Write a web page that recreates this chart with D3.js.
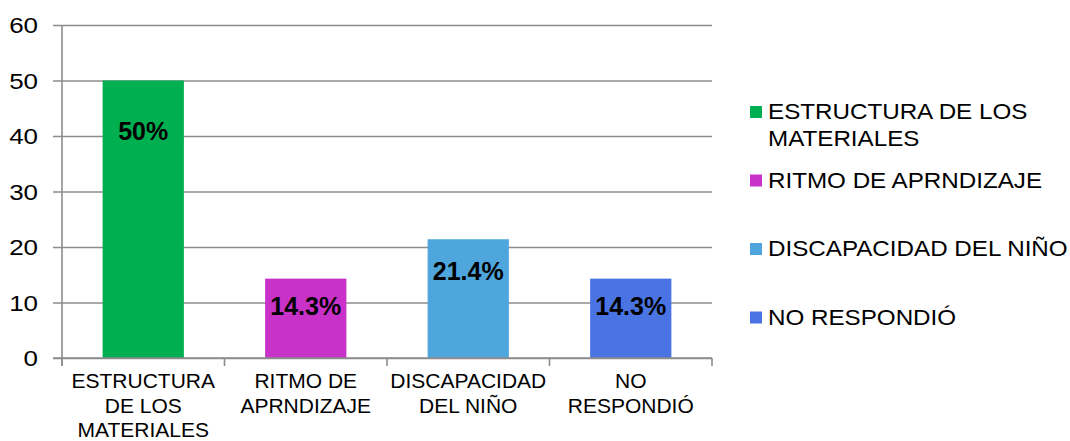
<!DOCTYPE html>
<html>
<head>
<meta charset="utf-8">
<script src="https://cdn.jsdelivr.net/npm/d3@7"></script>
<style>
  html, body { margin: 0; padding: 0; background: #fff; }
  svg { display: block; font-family: 'Liberation Sans', Arial, sans-serif; }
</style>
</head>
<body>
<div id="chart"></div>
<script>
const categories = ['ESTRUCTURA DE LOS MATERIALES', 'RITMO DE APRNDIZAJE', 'DISCAPACIDAD DEL NIÑO', 'NO RESPONDIÓ']
const categoryLines = [['ESTRUCTURA', 'DE LOS', 'MATERIALES'], ['RITMO DE', 'APRNDIZAJE'], ['DISCAPACIDAD', 'DEL NIÑO'], ['NO', 'RESPONDIÓ']]
const legendLines = [['ESTRUCTURA DE LOS', 'MATERIALES'], ['RITMO DE APRNDIZAJE'], ['DISCAPACIDAD DEL NIÑO'], ['NO RESPONDIÓ']]
const values = [50, 14.3, 21.4, 14.3]
const valueLabels = ['50%', '14.3%', '21.4%', '14.3%']
// where the (hand placed) value labels sit, in axis units
const labelBaseline = [39.3, 7.8, 14.1, 7.8]
const yTicks = [0, 10, 20, 30, 40, 50, 60]
const colors = ['#00AF50', '#C832C8', '#4FA6DC', '#4A74E3']

const W = 1070, H = 441
const plot = { left: 62, right: 712, top: 25, bottom: 358 }
const gridColor = '#8c8c8c'
// the original picture is a bit stretched sideways
const stretchTicks = 1.18
const stretchLegend = 1.1

const svg = d3.select('#chart').append('svg')
  .attr('width', W)
  .attr('height', H)

const x = d3.scaleBand()
  .domain(categories)
  .range([plot.left, plot.right])
  .paddingInner(0.5)
  .paddingOuter(0.25)

const y = d3.scaleLinear()
  .domain([0, 60])
  .range([plot.bottom, plot.top])

// y axis with gridlines
svg.append('g')
  .attr('transform', `translate(${plot.left},0)`)
  .call(d3.axisLeft(y).tickValues(yTicks).tickSizeInner(-(plot.right - plot.left)).tickSizeOuter(0))
  .call((g) => {
    g.select('.domain').remove()
    g.selectAll('.tick line')
      .attr('x1', -9)
      .attr('stroke', gridColor)
      .attr('stroke-width', 1.6)
    g.selectAll('.tick text')
      .attr('x', -24 / stretchTicks)
      .attr('transform', `scale(${stretchTicks},1)`)
      .attr('fill', '#000')
      .attr('font-family', null)
      .style('font-size', '22px')
      .attr('dy', '0.36em')
  })

// vertical axis line
svg.append('line')
  .attr('x1', plot.left).attr('x2', plot.left)
  .attr('y1', plot.top).attr('y2', plot.bottom + 8)
  .attr('stroke', gridColor)
  .attr('stroke-width', 1.6)

// bars
svg.append('g')
  .selectAll('rect')
  .data(values)
  .enter()
  .append('rect')
  .attr('x', (d, i) => x(categories[i]))
  .attr('y', (d) => y(d))
  .attr('width', x.bandwidth())
  .attr('height', (d) => y(0) - y(d))
  .attr('fill', (d, i) => colors[i])

// x axis baseline + category dividers
const step = x.step()
const xAxis = svg.append('g')
xAxis.append('line')
  .attr('x1', plot.left - 9).attr('x2', plot.right)
  .attr('y1', y(0)).attr('y2', y(0))
  .attr('stroke', gridColor)
  .attr('stroke-width', 1.6)
xAxis.selectAll('.divider')
  .data(d3.range(categories.length + 1))
  .enter()
  .append('line')
  .attr('class', 'divider')
  .attr('x1', (i) => plot.left + i * step)
  .attr('x2', (i) => plot.left + i * step)
  .attr('y1', y(0))
  .attr('y2', y(0) + 8)
  .attr('stroke', gridColor)
  .attr('stroke-width', 1.6)

// category labels
categories.forEach((c, i) => {
  const cx = x(c) + x.bandwidth() / 2
  const t = svg.append('text')
    .attr('x', cx)
    .attr('y', 388)
    .attr('text-anchor', 'middle')
    .style('font-size', '21px')
    .attr('fill', '#000')
  categoryLines[i].forEach((line, j) => {
    t.append('tspan')
      .attr('x', cx)
      .attr('dy', j === 0 ? 0 : 24.5)
      .text(line)
  })
})

// value labels
svg.append('g')
  .selectAll('text')
  .data(valueLabels)
  .enter()
  .append('text')
  .attr('x', (d, i) => x(categories[i]) + x.bandwidth() / 2)
  .attr('y', (d, i) => y(labelBaseline[i]))
  .attr('text-anchor', 'middle')
  .style('font-size', '25px')
  .style('font-weight', 'bold')
  .attr('fill', '#000')
  .text((d) => d)

// legend
const legend = svg.append('g').attr('transform', 'translate(750,0)')
legendLines.forEach((lines, i) => {
  const cy = 112 + i * 68.5
  legend.append('rect')
    .attr('x', 0)
    .attr('y', cy - 6)
    .attr('width', 12)
    .attr('height', 12)
    .attr('fill', colors[i])
  const t = legend.append('g')
    .attr('transform', `translate(18,${cy + 7}) scale(${stretchLegend},1)`)
    .append('text')
    .style('font-size', '22px')
    .attr('fill', '#000')
  lines.forEach((line, j) => {
    t.append('tspan')
      .attr('x', 0)
      .attr('dy', j === 0 ? 0 : 27)
      .text(line)
  })
})
</script>
</body>
</html>
